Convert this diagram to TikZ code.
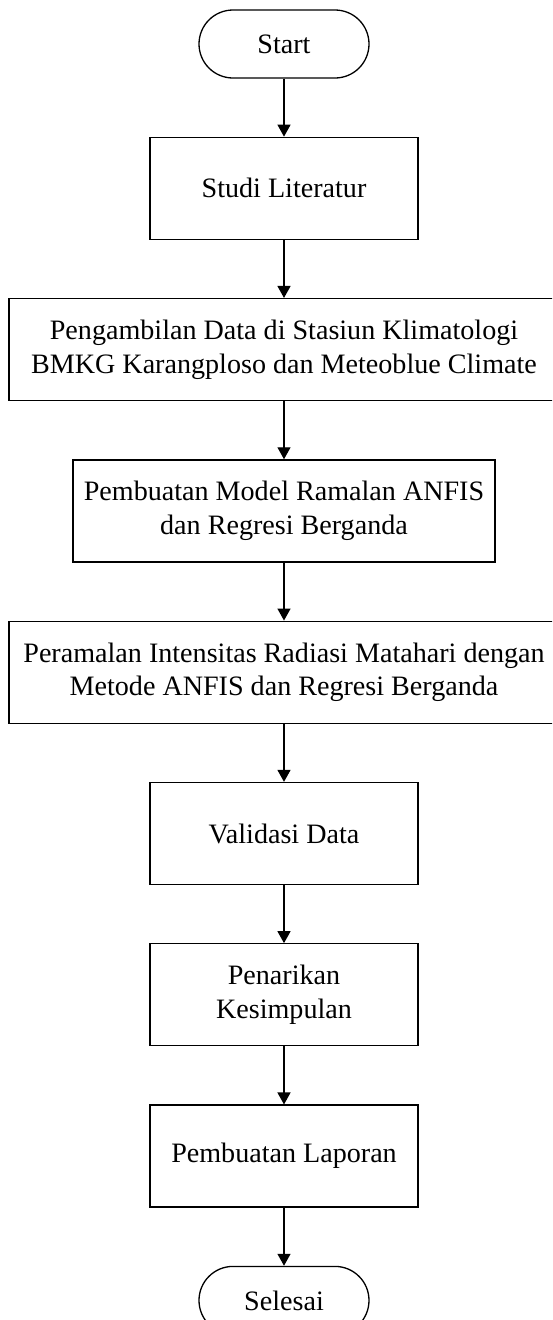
\documentclass[tikz,border=0pt]{standalone}
\usepackage{fontspec}
\setmainfont{Liberation Serif}
\usetikzlibrary{arrows.meta,positioning}

\begin{document}
\begin{tikzpicture}[
    x=1pt, y=1pt,
    node distance=58pt,
    block/.style={draw, rectangle, line width=1.3pt, minimum height=102pt, inner sep=2pt, align=center, font=\fontsize{28.1}{33.5}\selectfont},
    wide/.style={block, minimum width=550pt},
    mid/.style={block, minimum width=422pt},
    narrow/.style={block, minimum width=268pt},
    term/.style={block, rounded corners=34pt, minimum height=68pt, minimum width=170pt},
    arrow/.style={-{Triangle[width=13pt,length=12pt]}, line width=1.3pt}
]
    \useasboundingbox (0,0) rectangle (552,-1320);
    \clip (0,0) rectangle (552,-1320);
    \fill[white] (0,0) rectangle (552,-1320);

    \node[term] (start) at (284,-44) {Start};
    \node[narrow] (studi) [below=of start] {Studi Literatur};
    \node[wide] (ambil) [below=of studi] {Pengambilan Data di Stasiun Klimatologi\\BMKG Karangploso dan Meteoblue Climate};
    \node[mid] (model) [below=of ambil] {Pembuatan Model Ramalan ANFIS\\dan Regresi Berganda};
    \node[wide] (ramal) [below=of model] {Peramalan Intensitas Radiasi Matahari dengan\\Metode ANFIS dan Regresi Berganda};
    \node[narrow] (valid) [below=of ramal] {Validasi Data};
    \node[narrow] (simpul) [below=of valid] {Penarikan\\Kesimpulan};
    \node[narrow] (lapor) [below=of simpul] {Pembuatan Laporan};
    \node[term] (selesai) [below=of lapor] {Selesai};

    \draw[arrow] (start) -- (studi);
    \draw[arrow] (studi) -- (ambil);
    \draw[arrow] (ambil) -- (model);
    \draw[arrow] (model) -- (ramal);
    \draw[arrow] (ramal) -- (valid);
    \draw[arrow] (valid) -- (simpul);
    \draw[arrow] (simpul) -- (lapor);
    \draw[arrow] (lapor) -- (selesai);
\end{tikzpicture}
\end{document}
